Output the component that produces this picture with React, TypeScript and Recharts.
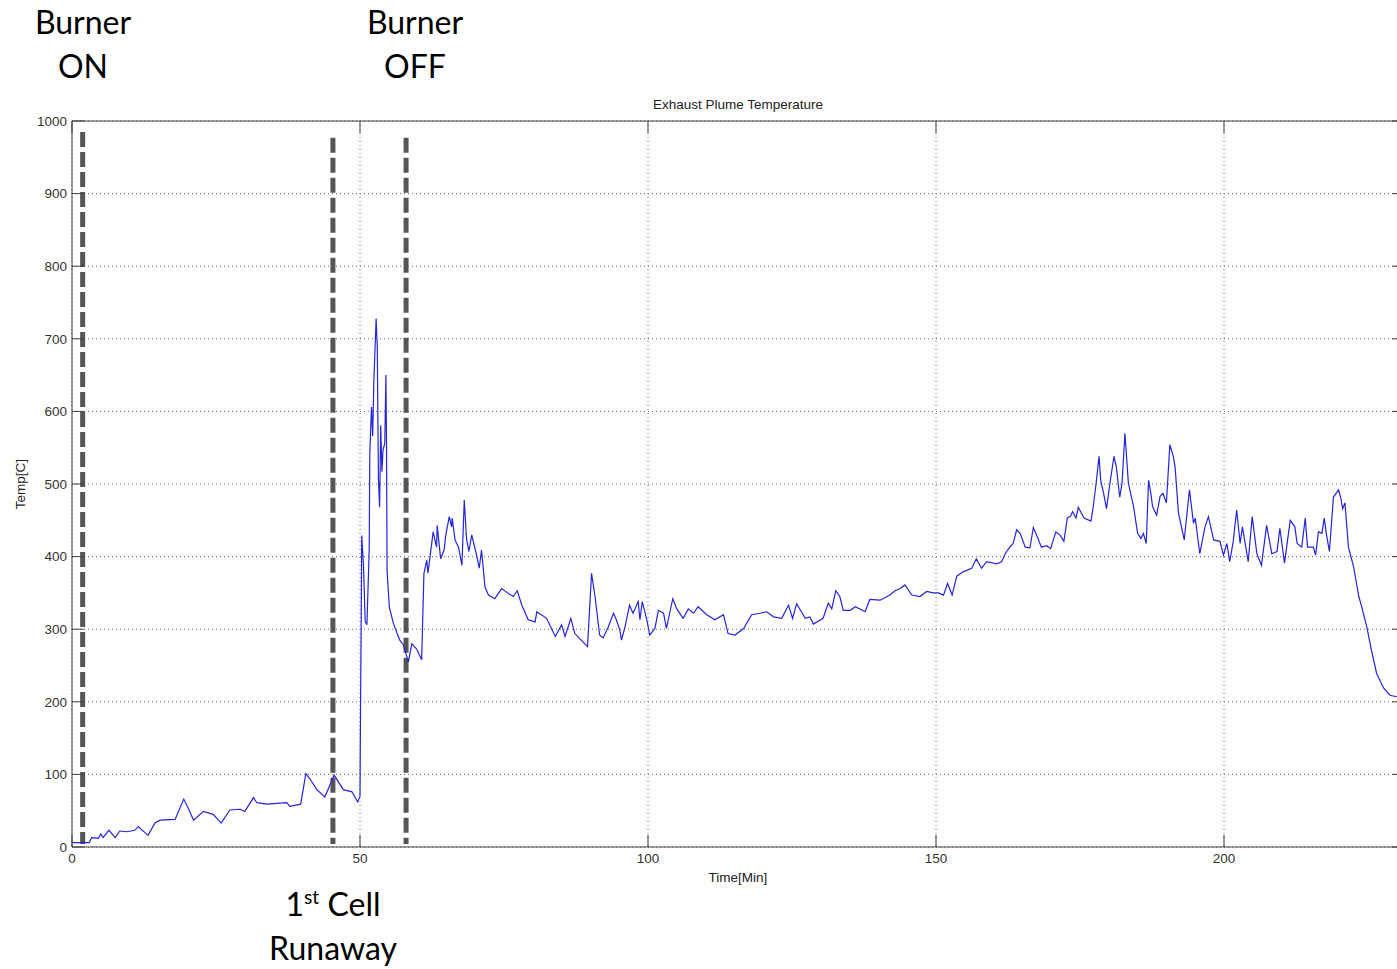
import React from "react";
import {
  LineChart,
  Line,
  XAxis,
  YAxis,
  CartesianGrid,
  ReferenceLine,
} from "recharts";

// Exhaust plume temperature (minutes, degC)
const times = [
  0, 3.0, 3.4, 4.6, 5.0, 5.4, 6.4, 7.5, 8.3, 9.5, 10.9, 11.5, 13.2, 14.4, 15.3,
  17.9, 19.4, 20.2, 21.1, 22.8, 24.5, 25.9, 27.4, 29.2, 30.0, 31.5, 32.1, 33.8,
  37.3, 37.8, 39.7, 40.6, 41.3, 42.5, 43.9, 45.5, 47.1, 48.6, 49.6, 50.0, 50.1,
  50.2, 50.3, 50.6, 50.9, 51.2, 51.6, 51.7, 52.0, 52.2, 52.4, 52.8, 53.0, 53.2,
  53.4, 53.6, 53.8, 54.0, 54.3, 54.5, 54.6, 54.7, 55.1, 55.8, 56.4, 56.9, 57.5,
  58.4, 59.0, 59.8, 60.7, 61.1, 61.6, 61.8, 62.7, 63.3, 63.4, 64.0, 64.6, 64.9,
  65.5, 65.9, 66.0, 66.5, 67.1, 67.7, 68.1, 68.5, 68.9, 69.4, 70.3, 70.7, 71.1,
  71.7, 72.3, 73.4, 74.6, 75.8, 76.6, 77.3, 78.1, 79.2, 80.4, 80.7, 82.4, 83.9,
  85.0, 85.6, 86.6, 87.3, 88.4, 89.5, 90.2, 90.8, 91.6, 92.2, 93.1, 94.0, 94.5,
  95.1, 95.4, 96.0, 96.8, 97.4, 98.3, 98.6, 99.0, 99.8, 100.3, 101.2, 101.8,
  102.7, 103.2, 104.3, 105.0, 106.1, 107.0, 107.9, 108.7, 110.2, 111.6, 113.1,
  113.9, 115.1, 116.6, 118.0, 119.5, 120.6, 121.8, 123.2, 124.4, 125.1, 125.8,
  127.3, 128.1, 128.7, 130.4, 131.3, 131.9, 132.6, 133.3, 133.9, 135.1, 136.0,
  137.7, 138.5, 140.3, 142.0, 142.9, 143.8, 144.6, 145.8, 147.2, 148.4, 149.5,
  150.4, 151.3, 152.0, 152.8, 153.6, 154.7, 156.2, 157.0, 157.9, 158.8, 160.5,
  161.4, 162.0, 162.8, 163.4, 164.0, 164.6, 165.5, 166.3, 166.9, 167.6, 168.3,
  169.2, 169.9, 170.8, 171.5, 172.2, 172.8, 173.4, 173.7, 174.3, 174.7, 175.7,
  176.9, 177.3, 177.8, 178.3, 178.6, 179.1, 179.6, 180.2, 180.9, 181.3, 181.9,
  182.3, 182.8, 183.4, 184.3, 185.0, 185.6, 186.0, 186.5, 186.9, 187.3, 187.6,
  188.3, 188.9, 189.4, 190.0, 190.6, 191.2, 191.5, 192.1, 193.1, 194.0, 194.7,
  195.0, 195.8, 196.7, 197.3, 198.2, 199.3, 199.9, 200.5, 201.0, 201.6, 202.2,
  202.8, 203.2, 204.2, 204.9, 205.7, 206.5, 207.4, 208.3, 209.2, 209.7, 210.5,
  211.5, 212.3, 212.7, 213.5, 214.1, 214.5, 215.5, 215.9, 216.4, 217.0, 217.4,
  217.8, 218.3, 219.0, 219.9, 220.3, 220.6, 221.0, 221.6, 222.5, 223.4, 223.9,
  224.8, 225.6, 226.5, 227.7, 228.8, 230.0,
];

const temps = [
  6, 6, 13, 12, 18, 13, 23, 13, 22, 21, 23, 28, 16, 33, 37,
  38, 66, 53, 37, 49, 45, 33, 51, 52, 49, 68, 61, 59,
  61, 56, 59, 101, 94, 79, 69, 99, 79, 76, 62, 70, 200,
  300, 429, 389, 311, 306, 409, 542, 606, 566, 640, 728, 689, 507,
  468, 581, 517, 547, 556, 650, 560, 380, 330, 308, 295, 285, 279,
  255, 280, 273, 258, 377, 395, 377, 434, 413, 443, 397, 409, 430,
  455, 441, 453, 423, 413, 388, 478, 424, 407, 430, 400, 384, 409,
  358, 347, 342, 356, 349, 345, 353, 333, 313, 310, 324, 315, 290,
  306, 290, 315, 294, 285, 276, 377, 345, 292, 288, 303, 322, 313,
  299, 285, 303, 333, 322, 338, 313, 338, 313, 292, 301, 326,
  322, 301, 342, 328, 315, 328, 322, 331, 320, 313, 320,
  294, 292, 301, 320, 322, 324, 317, 315, 333, 315, 335,
  315, 317, 307, 315, 336, 328, 353, 345, 326, 326, 331,
  324, 341, 340, 347, 353, 356, 361, 347, 345, 352, 350,
  350, 347, 363, 347, 373, 379, 384, 397, 384, 393, 390,
  393, 404, 413, 418, 437, 432, 413, 412, 440, 427, 413,
  415, 411, 434, 430, 421, 453, 456, 462, 453, 468, 453,
  449, 469, 501, 538, 505, 487, 466, 501, 538, 524, 482,
  501, 570, 501, 469, 432, 425, 432, 418, 505, 487, 469,
  457, 483, 487, 474, 554, 538, 524, 460, 423, 492, 446,
  453, 404, 441, 455, 423, 421, 402, 418, 393, 421, 464,
  418, 441, 393, 455, 404, 388, 443, 404, 407, 439, 391,
  450, 441, 418, 413, 453, 413, 413, 402, 434, 432, 453,
  430, 407, 482, 492, 480, 466, 474, 413, 386, 345, 331,
  303, 271, 239, 219, 209, 207,
];

const xTicks = [0, 50, 100, 150, 200];
const yTicks = [0, 100, 200, 300, 400, 500, 600, 700, 800, 900, 1000];

// dashed event markers: burner on, 1st cell runaway, burner off
const eventTimes = [1.85, 45.3, 58.0];
const eventTops = [985, 977, 977];

const data = times.map((t, i) => ({ t, temp: temps[i] }));

const CHART_W = 1404;
const CHART_H = 969;
const PLOT_LEFT = 72;
const PLOT_TOP = 121;
const PLOT_BOTTOM = 847;
const PLOT_RIGHT = CHART_W;
const TICK_LEN = 12;
const AXIS_COLOR = "#404040";
const TICK_FONT = "'Liberation Sans', Arial, sans-serif";
const NOTE_FONT = "Lato, 'Open Sans', sans-serif";

const YTick = (props: any) => {
  const { x, y, payload } = props;
  return (
    <g>
      <line x1={PLOT_LEFT} x2={PLOT_LEFT + TICK_LEN} y1={y} y2={y} stroke={AXIS_COLOR} />
      <line x1={PLOT_RIGHT - TICK_LEN} x2={PLOT_RIGHT} y1={y} y2={y} stroke={AXIS_COLOR} />
      <text
        x={x}
        y={y}
        dy="0.35em"
        textAnchor="end"
        fill="#333"
        fontSize={13.5}
        fontFamily={TICK_FONT}
      >
        {payload.value}
      </text>
    </g>
  );
};

const XTick = (props: any) => {
  const { x, y, payload } = props;
  return (
    <g>
      <line x1={x} x2={x} y1={PLOT_BOTTOM} y2={PLOT_BOTTOM - TICK_LEN} stroke={AXIS_COLOR} />
      <line x1={x} x2={x} y1={PLOT_TOP} y2={PLOT_TOP + TICK_LEN} stroke={AXIS_COLOR} />
      <text
        x={x}
        y={y}
        dy="0.75em"
        textAnchor="middle"
        fill="#333"
        fontSize={13.5}
        fontFamily={TICK_FONT}
      >
        {payload.value}
      </text>
    </g>
  );
};

const noteStyle = (cx: number, top: number): React.CSSProperties => ({
  position: "absolute",
  left: cx - 100,
  top,
  width: 200,
  textAlign: "center",
  fontFamily: NOTE_FONT,
  fontSize: 32,
  lineHeight: "44px",
  color: "#000",
});

const smallStyle = (cx: number, cy: number): React.CSSProperties => ({
  position: "absolute",
  left: cx - 150,
  top: cy - 9,
  width: 300,
  textAlign: "center",
  fontFamily: TICK_FONT,
  fontSize: 13.5,
  lineHeight: "18px",
  color: "#222",
});

export default function App() {
  return (
    <div
      style={{
        position: "absolute",
        left: 0,
        top: 0,
        width: 1397,
        height: CHART_H,
        overflow: "hidden",
        background: "#fff",
      }}
    >
      <LineChart
        width={CHART_W}
        height={CHART_H}
        data={data}
        margin={{ top: PLOT_TOP, right: 0, left: 0, bottom: 0 }}
      >
        <CartesianGrid
          stroke="#666"
          strokeDasharray="1 3"
          horizontalValues={yTicks}
          verticalValues={xTicks}
        />
        <XAxis
          dataKey="t"
          type="number"
          domain={[0, 231.25]}
          ticks={xTicks}
          allowDataOverflow
          height={CHART_H - PLOT_BOTTOM}
          tickSize={0}
          tickMargin={6}
          tick={<XTick />}
          axisLine={{ stroke: AXIS_COLOR }}
        />
        <YAxis
          type="number"
          domain={[0, 1000]}
          ticks={yTicks}
          width={PLOT_LEFT}
          tickSize={0}
          tickMargin={5}
          tick={<YTick />}
          axisLine={{ stroke: AXIS_COLOR }}
        />
        <ReferenceLine y={1000} stroke={AXIS_COLOR} strokeWidth={1} />
        {eventTimes.map((t, i) => (
          <ReferenceLine
            key={t}
            segment={[
              { x: t, y: eventTops[i] },
              { x: t, y: 4 },
            ]}
            stroke="#555"
            strokeWidth={5}
            strokeDasharray="15 5"
          />
        ))}
        <Line
          type="linear"
          dataKey="temp"
          stroke="#2424dc"
          strokeWidth={1.2}
          dot={false}
          isAnimationActive={false}
        />
      </LineChart>

      <div style={smallStyle(738, 105)}>Exhaust Plume Temperature</div>
      <div style={smallStyle(738, 878)}>Time[Min]</div>
      <div
        style={{
          ...smallStyle(21, 484),
          transform: "rotate(-90deg)",
        }}
      >
        Temp[C]
      </div>

      <div style={noteStyle(83, 0)}>
        Burner
        <br />
        ON
      </div>
      <div style={noteStyle(415, 0)}>
        Burner
        <br />
        OFF
      </div>
      <div style={noteStyle(333, 882)}>
        1
        <span style={{ fontSize: "0.6em", verticalAlign: "super", lineHeight: 0 }}>st</span>{" "}
        Cell
        <br />
        Runaway
      </div>
    </div>
  );
}
